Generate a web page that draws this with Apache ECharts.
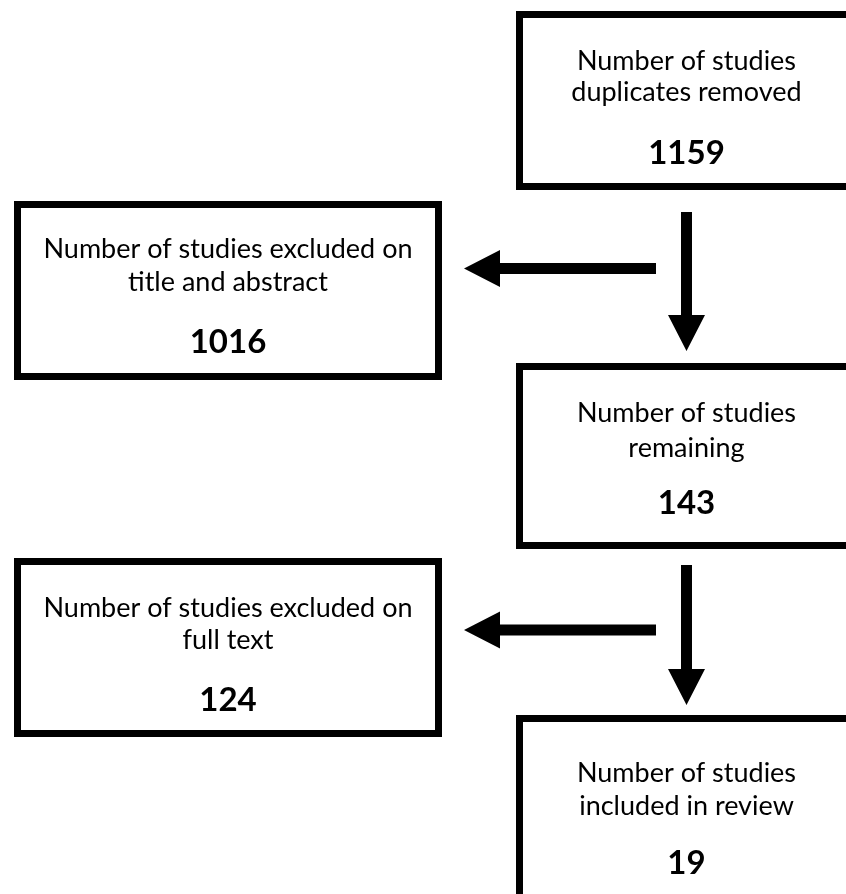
<!DOCTYPE html>
<html>
<head>
<meta charset="utf-8">
<script src="https://cdn.jsdelivr.net/npm/echarts@6/dist/echarts.min.js"></script>
<style>
  html, body { margin: 0; padding: 0; background: #ffffff; }
  #chart { width: 846px; height: 894px; }
</style>
</head>
<body>
<div id="chart"></div>
<script>
// ---- data ----
const boxLine1 = ['Number of studies', 'Number of studies excluded on', 'Number of studies', 'Number of studies excluded on', 'Number of studies'];
const boxLine2 = ['duplicates removed', 'title and abstract', 'remaining', 'full text', 'included in review'];
const boxCounts = [1159, 1016, 143, 124, 19];

// ---- layout (pixel space of the hidden axes) ----
// outer box edges [x0, y0, x1, y1] and text line centres [line1, line2, count]
const boxRects = [
  [516, 11, 857, 190],
  [14, 201, 442, 380],
  [516, 363, 857, 549],
  [14, 558, 442, 737],
  [516, 715, 857, 920]
];
const boxTextY = [
  [61, 92, 153],
  [249, 282, 342],
  [413, 448, 503],
  [608, 640, 700],
  [773, 806, 863]
];
// arrows: [startX, startY, tipX, tipY]
const arrows = [
  [686.5, 212, 686.5, 351],
  [656, 268.5, 464, 268.5],
  [686.5, 565, 686.5, 705],
  [656, 630, 464, 630]
];
const BORDER = 7, SHAFT = 11, HEAD_W = 37, HEAD_L = 36;
const FONT = 'Lato, "Open Sans", sans-serif';

const chart = echarts.init(document.getElementById('chart'), null, { renderer: 'canvas' });

function renderBox(params, api) {
  const i = api.value(0);
  const r = boxRects[i];
  const p0 = api.coord([r[0], r[1]]);
  const p1 = api.coord([r[2], r[3]]);
  const h = BORDER / 2;
  const cx = (p0[0] + p1[0]) / 2;
  const ty = boxTextY[i];
  return {
    type: 'group',
    children: [
      {
        type: 'rect',
        shape: { x: p0[0] + h, y: p0[1] + h, width: p1[0] - p0[0] - BORDER, height: p1[1] - p0[1] - BORDER },
        style: { fill: '#ffffff', stroke: '#000000', lineWidth: BORDER }
      },
      {
        type: 'text',
        x: cx, y: api.coord([0, ty[0]])[1],
        style: { text: boxLine1[i], fill: '#000', font: '400 27px ' + FONT, textAlign: 'center', textVerticalAlign: 'middle' }
      },
      {
        type: 'text',
        x: cx, y: api.coord([0, ty[1]])[1],
        style: { text: boxLine2[i], fill: '#000', font: '400 27px ' + FONT, textAlign: 'center', textVerticalAlign: 'middle' }
      },
      {
        type: 'text',
        x: cx, y: api.coord([0, ty[2]])[1],
        style: { text: String(boxCounts[i]), fill: '#000', font: '700 33px ' + FONT, textAlign: 'center', textVerticalAlign: 'middle' }
      }
    ]
  };
}

function renderArrow(params, api) {
  const a = arrows[api.value(0)];
  const s = api.coord([a[0], a[1]]);
  const t = api.coord([a[2], a[3]]);
  const dx = t[0] - s[0], dy = t[1] - s[1];
  const len = Math.sqrt(dx * dx + dy * dy);
  const ux = dx / len, uy = dy / len;
  const nx = -uy, ny = ux;
  const bx = t[0] - ux * HEAD_L, by = t[1] - uy * HEAD_L;
  const sw = SHAFT / 2, hw = HEAD_W / 2;
  const pts = [
    [s[0] + nx * sw, s[1] + ny * sw],
    [bx + nx * sw, by + ny * sw],
    [bx + nx * hw, by + ny * hw],
    [t[0], t[1]],
    [bx - nx * hw, by - ny * hw],
    [bx - nx * sw, by - ny * sw],
    [s[0] - nx * sw, s[1] - ny * sw]
  ];
  return { type: 'polygon', shape: { points: pts }, style: { fill: '#000000' } };
}

chart.setOption({
  animation: false,
  backgroundColor: '#ffffff',
  grid: { left: 0, right: 0, top: 0, bottom: 0 },
  xAxis: { type: 'value', min: 0, max: 846, show: false },
  yAxis: { type: 'value', min: 0, max: 894, inverse: true, show: false },
  series: [
    {
      type: 'custom',
      clip: false,
      renderItem: renderBox,
      data: boxCounts.map((c, i) => [i]),
      silent: true
    },
    {
      type: 'custom',
      clip: false,
      renderItem: renderArrow,
      data: arrows.map((a, i) => [i]),
      silent: true
    }
  ]
});
</script>
</body>
</html>
